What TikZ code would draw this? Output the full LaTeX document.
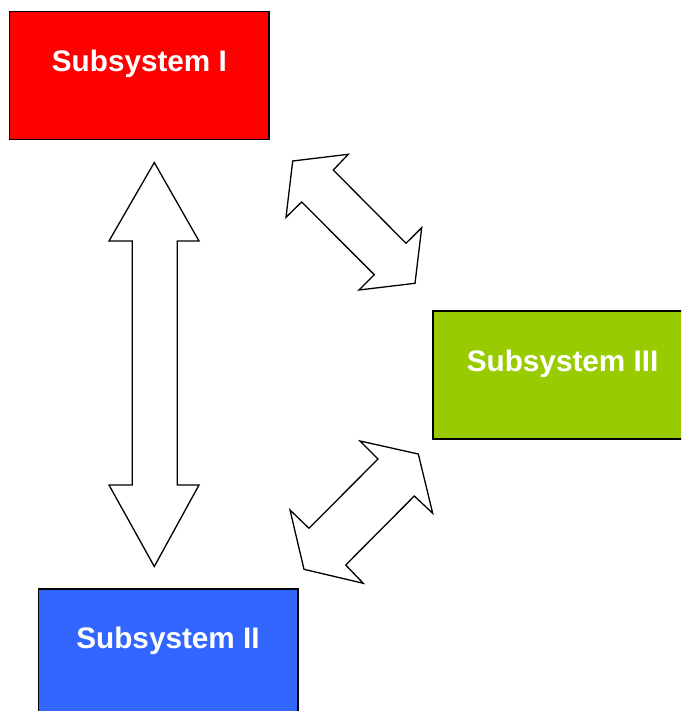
\documentclass[tikz,border=0pt]{standalone}
\usepackage{fontspec}
\setmainfont{Liberation Sans}
\definecolor{subred}{HTML}{FF0000}
\definecolor{subblue}{HTML}{3366FF}
\definecolor{subgreen}{HTML}{99CC00}
\tikzset{
  subbox/.style={draw=black, line width=1.5pt, rectangle, inner sep=0pt,
                 minimum width=259.5pt, minimum height=128pt},
  sublabel/.style={anchor=base, text=white, inner sep=0pt,
                   font=\fontsize{29.7}{36}\selectfont\bfseries},
  blockarrow/.style={draw=black, fill=white, line width=1.3pt, line join=miter}
}
\begin{document}
\begin{tikzpicture}[x=1pt, y=-1pt]
  \useasboundingbox (0,0) rectangle (681,711);
  \clip (0,0) rectangle (681,711);

  % subsystem blocks
  \node[subbox, fill=subred]   (s1) at (139.4,75.5)  {};
  \node[subbox, fill=subblue]  (s2) at (168.0,653.0) {};
  \node[subbox, fill=subgreen] (s3) at (562.6,375.2) {};

  \node[sublabel] (l1) at (139.4,72.0)  {Subsystem I};
  \node[sublabel] (l2) at (168.0,648.3) {Subsystem II};
  \node[sublabel] (l3) at (562.6,371.0) {Subsystem III};

  % vertical double arrow between I and II
  \draw[blockarrow]
    (154.3,162.5) -- (199,241) -- (177.3,241) -- (177.3,485) -- (199,485)
    -- (154.3,566.5) -- (109,485) -- (132.3,485) -- (132.3,241) -- (109,241)
    -- cycle;

  % double arrow between I and III
  \draw[blockarrow]
    (292.7,161.0) -- (348.3,154.3) -- (333.3,170.0) -- (406.0,243.3)
    -- (421.7,227.7) -- (415.0,283.3) -- (359.0,290.0) -- (374.3,274.7)
    -- (301.7,202.0) -- (286.0,217.3) -- cycle;

  % double arrow between II and III
  \draw[blockarrow]
    (360.0,441.0) -- (418.3,454.0) -- (432.7,513.3) -- (414.3,496.0)
    -- (345.7,565.0) -- (363.3,583.3) -- (304.0,569.3) -- (290.0,510.0)
    -- (309.0,528.3) -- (378.0,459.0) -- cycle;
\end{tikzpicture}
\end{document}
